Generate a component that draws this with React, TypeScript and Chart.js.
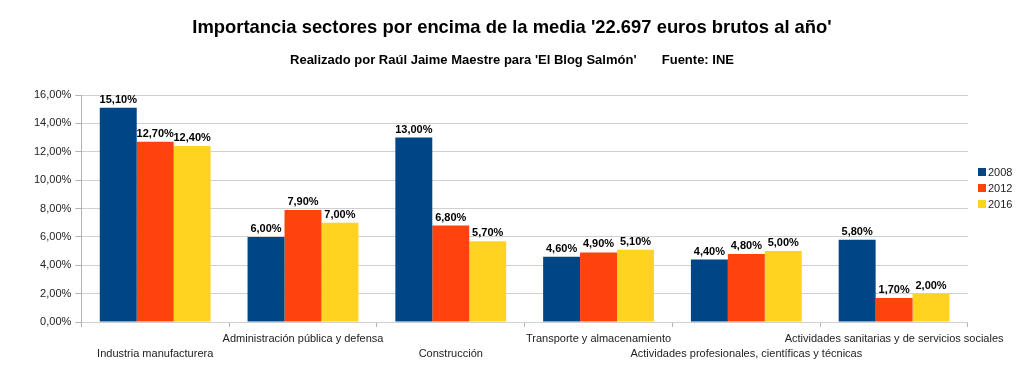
import React, { useEffect, useRef } from "react";
import { Chart, registerables } from "chart.js";

Chart.register(...registerables);

const categories: string[] = [
  "Industria manufacturera",
  "Administración pública y defensa",
  "Construcción",
  "Transporte y almacenamiento",
  "Actividades profesionales, científicas y técnicas",
  "Actividades sanitarias y de servicios sociales",
];
const years: string[] = ["2008", "2012", "2016"];
const values2008: number[] = [15.1, 6.0, 13.0, 4.6, 4.4, 5.8];
const values2012: number[] = [12.7, 7.9, 6.8, 4.9, 4.8, 1.7];
const values2016: number[] = [12.4, 7.0, 5.7, 5.1, 5.0, 2.0];
const colors: string[] = ["#004586", "#ff420e", "#ffd320"];

const titleText = "Importancia sectores por encima de la media '22.697 euros brutos al año'";
const subtitleText = "Realizado por Raúl Jaime Maestre para 'El Blog Salmón'       Fuente: INE";

const FONT = "'Liberation Sans', Arial, sans-serif";

const fmt = (v: number) => v.toFixed(2).replace(".", ",") + "%";

const titlePlugin = {
  id: "centeredTitles",
  afterDraw(chart: any) {
    const ctx = chart.ctx;
    const cx = chart.width / 2;
    ctx.save();
    ctx.fillStyle = "#000";
    ctx.textAlign = "center";
    ctx.textBaseline = "middle";
    ctx.font = `bold 18.4px ${FONT}`;
    ctx.fillText(titleText, cx, 20);
    ctx.font = `bold 13px ${FONT}`;
    ctx.fillText(subtitleText, cx, 52);
    ctx.restore();
  },
};

const dataLabelPlugin = {
  id: "dataLabels",
  afterDatasetsDraw(chart: any) {
    const ctx = chart.ctx;
    ctx.save();
    ctx.font = `bold 11px ${FONT}`;
    ctx.fillStyle = "#000";
    ctx.textAlign = "center";
    ctx.textBaseline = "alphabetic";
    chart.data.datasets.forEach((ds: any, i: number) => {
      const meta = chart.getDatasetMeta(i);
      meta.data.forEach((bar: any, j: number) => {
        ctx.fillText(fmt(ds.data[j]), bar.x, bar.y - 5);
      });
    });
    ctx.restore();
  },
};

const legendPlugin = {
  id: "customLegend",
  afterDraw(chart: any) {
    const ctx = chart.ctx;
    const area = chart.chartArea;
    ctx.save();
    ctx.font = `11px ${FONT}`;
    ctx.textBaseline = "middle";
    ctx.textAlign = "left";
    chart.data.datasets.forEach((ds: any, i: number) => {
      const y = 164 + i * 16;
      const x = area.right + 10;
      ctx.fillStyle = ds.backgroundColor;
      ctx.fillRect(x, y - 4, 8, 8);
      ctx.fillStyle = "#222";
      ctx.fillText(ds.label, x + 10, y + 0.5);
    });
    ctx.restore();
  },
};

export default function App() {
  const ref = useRef<HTMLCanvasElement>(null);
  useEffect(() => {
    if (!ref.current) return;
    const labels = categories.map((c, i) => (i % 2 === 0 ? ["", c] : [c, ""]));
    const chart = new Chart(ref.current, {
      type: "bar",
      data: {
        labels,
        datasets: [values2008, values2012, values2016].map((d, i) => ({
          label: years[i],
          data: d,
          backgroundColor: colors[i],
          borderWidth: 0,
          barPercentage: 1,
          categoryPercentage: 0.75,
        })),
      },
      options: {
        animation: false,
        responsive: true,
        maintainAspectRatio: false,
        layout: { padding: { left: 22, right: 48, bottom: 4, top: 87 } },
        plugins: {
          legend: { display: false },
          tooltip: { enabled: false },
          title: { display: false },
          subtitle: { display: false },
        },
        scales: {
          x: {
            offset: true,
            grid: {
              offset: true,
              color: (c: any) => (c.index === 0 || c.index === categories.length ? "#b3b3b3" : "transparent"),
              tickColor: "#b3b3b3",
              tickLength: 5,
            },
            border: { display: false },
            ticks: {
              autoSkip: false,
              maxRotation: 0,
              minRotation: 0,
              padding: 4,
              color: "#222",
              font: { family: FONT, size: 11, lineHeight: 15 / 11 },
            },
          },
          y: {
            min: 0,
            max: 16,
            grid: { color: "#d0d0d0", tickColor: "#b3b3b3", tickLength: 6 },
            border: { color: "#b3b3b3" },
            ticks: {
              stepSize: 2,
              padding: 4,
              color: "#222",
              font: { family: FONT, size: 11 },
              callback: (v: any) => fmt(Number(v)),
            },
          },
        },
      },
      plugins: [titlePlugin, dataLabelPlugin, legendPlugin],
    });
    return () => chart.destroy();
  }, []);
  return (
    <div style={{ width: 1008, height: 361, position: "relative" }}>
      <canvas ref={ref} />
    </div>
  );
}
